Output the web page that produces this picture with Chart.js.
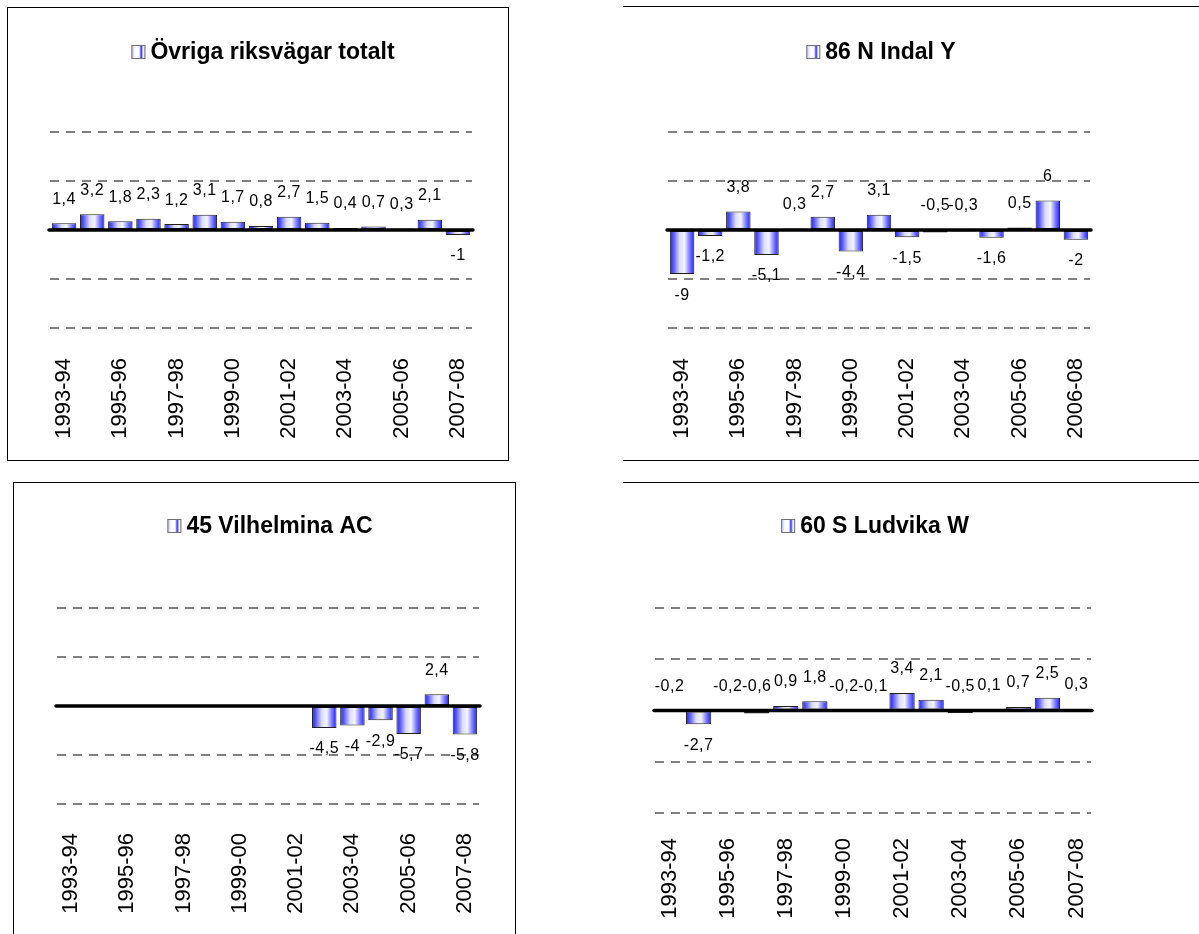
<!DOCTYPE html>
<html lang="sv">
<head>
<meta charset="UTF-8">
<title>Riksvägar</title>
<script src="https://cdn.jsdelivr.net/npm/chart.js"></script>
<style>
  html, body { margin: 0; padding: 0; background: #fff; }
  body { width: 1199px; height: 934px; position: relative; overflow: hidden; }
  canvas { position: absolute; }
  .line { position: absolute; background: #000; }
  .box { position: absolute; border: 1px solid #000; box-sizing: border-box; }
</style>
</head>
<body>
<div class="box" style="left:7px;top:7px;width:502px;height:454px;"></div>
<div class="line" style="left:623px;top:6px;width:576px;height:1px;"></div>
<div class="line" style="left:623px;top:460px;width:576px;height:1px;"></div>
<div class="box" style="left:13px;top:482px;width:503px;height:460px;"></div>
<div class="line" style="left:623px;top:482px;width:576px;height:1px;"></div>

<canvas id="c1"></canvas>
<canvas id="c2"></canvas>
<canvas id="c3"></canvas>
<canvas id="c4"></canvas>

<script>
// kategorier (säsonger)
const seasons = ['1993-94', '1994-95', '1995-96', '1996-97', '1997-98', '1998-99', '1999-00', '2000-01',
                 '2001-02', '2002-03', '2003-04', '2004-05', '2005-06', '2006-07', '2007-08'];
const seasonsIndal = ['1993-94', '1994-95', '1995-96', '1996-97', '1997-98', '1998-99', '1999-00', '2000-01',
                      '2001-02', '2002-03', '2003-04', '2004-05', '2005-06', '2006-07', '2006-08'];

// serier
const ovrigaTotalt = [1.4, 3.2, 1.8, 2.3, 1.2, 3.1, 1.7, 0.8, 2.7, 1.5, 0.4, 0.7, 0.3, 2.1, -1];
const indal = [-9, -1.2, 3.8, -5.1, 0.3, 2.7, -4.4, 3.1, -1.5, -0.5, -0.3, -1.6, 0.5, 6, -2];
const vilhelmina = [null, null, null, null, null, null, null, null, null, -4.5, -4, -2.9, -5.7, 2.4, -5.8];
const ludvika = [-0.2, -2.7, -0.2, -0.6, 0.9, 1.8, -0.2, -0.1, 3.4, 2.1, -0.5, 0.1, 0.7, 2.5, 0.3];

// y-axel
const yMin = -20, yMax = 20, yStep = 10;

const BAR_PCT = 0.87;
const FONT = '"Liberation Sans", Arial, sans-serif';

function fillStops(g) {
    g.addColorStop(0, '#1c1cff');
    g.addColorStop(0.15, '#5a5aff');
    g.addColorStop(0.4, '#dcdcff');
    g.addColorStop(0.6, '#f4f4ff');
    g.addColorStop(0.8, '#8080ff');
    g.addColorStop(1, '#1c1cff');
    return g;
}

function barFill(ctx) {
    const chart = ctx.chart;
    const xs = chart.scales.x;
    if (!chart.chartArea || !xs || ctx.type !== 'data') return '#7777ff';
    const n = chart.data.labels.length;
    const w = xs.width / n * BAR_PCT;
    const cx = xs.getPixelForValue(ctx.dataIndex);
    return fillStops(chart.ctx.createLinearGradient(cx - w / 2, 0, cx + w / 2, 0));
}

// titel med ikon, nollinje och värdeetiketter
const excelLook = {
    id: 'excelLook',
    afterDatasetsDraw(chart, args, opts) {
        const ctx = chart.ctx;
        const area = chart.chartArea;
        const y0 = chart.scales.y.getPixelForValue(0);

        ctx.save();
        ctx.strokeStyle = '#000';
        ctx.lineWidth = 3.5;
        ctx.lineCap = 'round';
        ctx.beginPath();
        ctx.moveTo(area.left - 1, y0);
        ctx.lineTo(area.right + 1, y0);
        ctx.stroke();

        // etiketter
        ctx.font = '16px ' + FONT;
        ctx.letterSpacing = '0.5px';
        ctx.fillStyle = '#000';
        ctx.textAlign = 'center';
        ctx.textBaseline = 'middle';
        const meta = chart.getDatasetMeta(0);
        const data = chart.data.datasets[0].data;
        meta.data.forEach((el, i) => {
            const v = data[i];
            if (v === null || v === undefined) return;
            const txt = String(v).replace('.', ',');
            const y = v < -0.9 ? el.y + 21 : Math.min(el.y, y0) - 24;
            ctx.fillText(txt, el.x, y);
        });

        // titel
        ctx.letterSpacing = '0px';
        ctx.font = 'bold 23px ' + FONT;
        const tw = ctx.measureText(opts.text).width;
        const icon = 14, gap = 5;
        const total = icon + gap + tw;
        const cx = (area.left + area.right) / 2 + 2;
        const left = cx - total / 2;
        const ty = opts.y;
        const g = ctx.createLinearGradient(left, 0, left + icon, 0);
        g.addColorStop(0, '#c0c0ff');
        g.addColorStop(0.3, '#ffffff');
        g.addColorStop(0.55, '#ffffff');
        g.addColorStop(0.7, '#3030ff');
        g.addColorStop(0.85, '#ffffff');
        g.addColorStop(1, '#e0e0ff');
        ctx.fillStyle = g;
        ctx.fillRect(left, ty - icon / 2, icon, icon);
        ctx.strokeStyle = '#707070';
        ctx.lineWidth = 1;
        ctx.strokeRect(left + 0.5, ty - icon / 2 + 0.5, icon - 1, icon - 1);
        ctx.fillStyle = '#000';
        ctx.textAlign = 'left';
        ctx.fillText(opts.text, left + icon + gap, ty + 1);
        ctx.restore();
    }
};

function makePanel(id, box, area, labels, values, title) {
    const canvas = document.getElementById(id);
    canvas.style.left = box.left + 'px';
    canvas.style.top = box.top + 'px';
    canvas.style.width = box.width + 'px';
    canvas.style.height = box.height + 'px';
    canvas.width = box.width;
    canvas.height = box.height;

    const padLeft = area.left - box.left;
    const padRight = box.left + box.width - area.right;
    const padTop = area.top - box.top;
    const axisH = box.top + box.height - area.bottom;

    return new Chart(canvas.getContext('2d'), {
        type: 'bar',
        data: {
            labels: labels,
            datasets: [{
                label: title,
                data: values,
                backgroundColor: barFill,
                borderColor: '#202020',
                borderWidth: 1,
                borderSkipped: false,
                barPercentage: BAR_PCT,
                categoryPercentage: 1
            }]
        },
        options: {
            responsive: false,
            animation: false,
            devicePixelRatio: 1,
            layout: { padding: { left: padLeft, right: padRight, top: padTop, bottom: 0 } },
            plugins: {
                legend: { display: false },
                tooltip: { enabled: false },
                excelLook: { text: title, y: area.titleY - box.top }
            },
            scales: {
                x: {
                    grid: { display: false, drawTicks: false },
                    border: { display: false },
                    ticks: {
                        autoSkip: false,
                        minRotation: 90,
                        maxRotation: 90,
                        padding: area.labelGap,
                        color: '#000',
                        font: { family: FONT, size: 22 },
                        callback: function (val, i) { return i % 2 === 0 ? this.getLabelForValue(val) : ''; }
                    },
                    afterFit: (s) => { s.height = axisH; s.paddingLeft = 0; s.paddingRight = 0; }
                },
                y: {
                    min: yMin,
                    max: yMax,
                    ticks: { display: false, stepSize: yStep },
                    grid: {
                        drawTicks: false,
                        lineWidth: 2,
                        color: (c) => c.tick && c.tick.value === 0 ? 'rgba(0,0,0,0)' : '#808080'
                    },
                    border: { display: false, dash: [9, 7] },
                    afterFit: (s) => { s.width = 0; s.paddingTop = 0; s.paddingBottom = 0; }
                }
            }
        },
        plugins: [excelLook]
    });
}

makePanel('c1', { left: 8, top: 8, width: 499, height: 451 },
          { left: 50, right: 472, top: 132, bottom: 328, titleY: 52, labelGap: 30 },
          seasons, ovrigaTotalt, 'Övriga riksvägar totalt');
makePanel('c2', { left: 624, top: 7, width: 575, height: 452 },
          { left: 668, right: 1090, top: 132, bottom: 328, titleY: 52, labelGap: 30 },
          seasonsIndal, indal, '86 N Indal Y');
makePanel('c3', { left: 14, top: 483, width: 501, height: 451 },
          { left: 57, right: 479, top: 608, bottom: 804, titleY: 526, labelGap: 29 },
          seasons, vilhelmina, '45 Vilhelmina AC');
makePanel('c4', { left: 624, top: 483, width: 575, height: 451 },
          { left: 655, right: 1091, top: 608, bottom: 813, titleY: 526, labelGap: 25 },
          seasons, ludvika, '60 S Ludvika W');
</script>
</body>
</html>
